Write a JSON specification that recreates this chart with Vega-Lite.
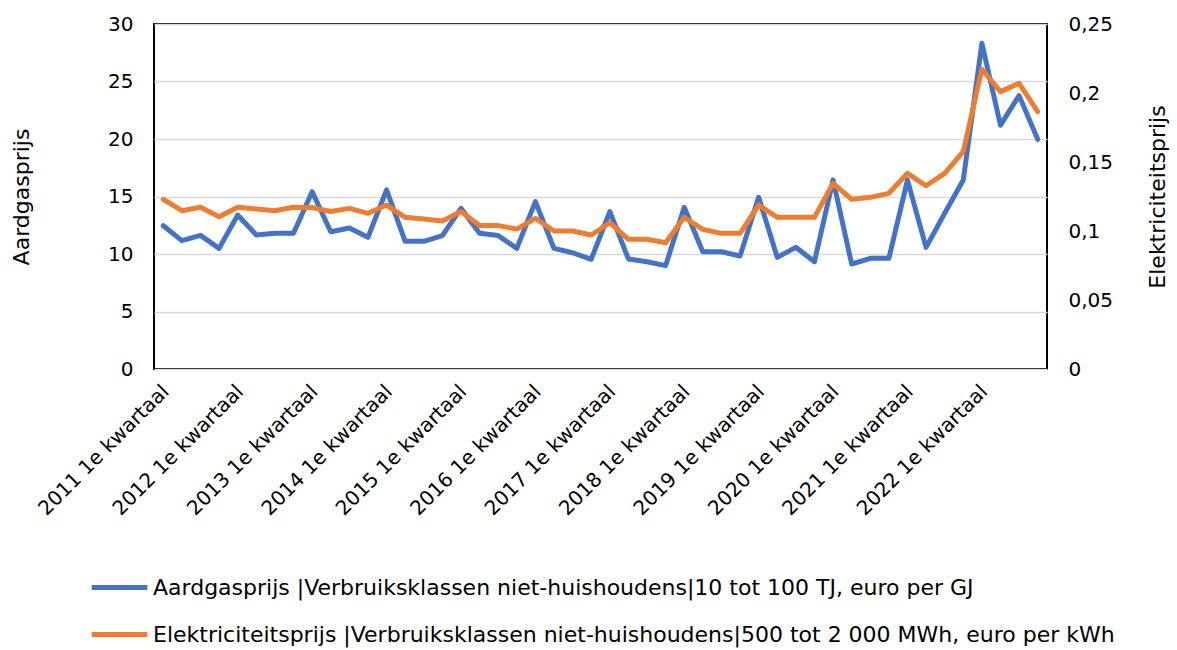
{
  "$schema": "https://vega.github.io/schema/vega-lite/v6.json",
  "width": 893,
  "height": 345,
  "autosize": {"type": "none"},
  "padding": {"left": 154, "top": 24, "right": 130, "bottom": 281},
  "background": "white",
  "config": {
    "font": "DejaVu Sans",
    "view": {"stroke": "#000000", "strokeWidth": 2},
    "axis": {"labelFont": "DejaVu Sans", "titleFont": "DejaVu Sans", "labelColor": "#000", "titleColor": "#000", "titleFontWeight": "normal"},
    "legend": {"labelFont": "DejaVu Sans", "labelColor": "#000"}
  },
  "data": {
    "values": [
      {"q": "2011 1e kwartaal", "gas": 12.46, "elek": 0.123},
      {"q": "2011 2e kwartaal", "gas": 11.16, "elek": 0.1147},
      {"q": "2011 3e kwartaal", "gas": 11.62, "elek": 0.1172},
      {"q": "2011 4e kwartaal", "gas": 10.49, "elek": 0.1104},
      {"q": "2012 1e kwartaal", "gas": 13.39, "elek": 0.1172},
      {"q": "2012 2e kwartaal", "gas": 11.65, "elek": 0.1159},
      {"q": "2012 3e kwartaal", "gas": 11.8, "elek": 0.1147},
      {"q": "2012 4e kwartaal", "gas": 11.8, "elek": 0.1172},
      {"q": "2013 1e kwartaal", "gas": 15.42, "elek": 0.117},
      {"q": "2013 2e kwartaal", "gas": 11.94, "elek": 0.1141},
      {"q": "2013 3e kwartaal", "gas": 12.26, "elek": 0.1164},
      {"q": "2013 4e kwartaal", "gas": 11.45, "elek": 0.1128},
      {"q": "2014 1e kwartaal", "gas": 15.57, "elek": 0.1188},
      {"q": "2014 2e kwartaal", "gas": 11.1, "elek": 0.1099},
      {"q": "2014 3e kwartaal", "gas": 11.1, "elek": 0.1087},
      {"q": "2014 4e kwartaal", "gas": 11.59, "elek": 0.1072},
      {"q": "2015 1e kwartaal", "gas": 13.97, "elek": 0.1141},
      {"q": "2015 2e kwartaal", "gas": 11.8, "elek": 0.1039},
      {"q": "2015 3e kwartaal", "gas": 11.6, "elek": 0.1039},
      {"q": "2015 4e kwartaal", "gas": 10.49, "elek": 0.1014},
      {"q": "2016 1e kwartaal", "gas": 14.55, "elek": 0.1092},
      {"q": "2016 2e kwartaal", "gas": 10.49, "elek": 0.1},
      {"q": "2016 3e kwartaal", "gas": 10.11, "elek": 0.1},
      {"q": "2016 4e kwartaal", "gas": 9.54, "elek": 0.0971},
      {"q": "2017 1e kwartaal", "gas": 13.68, "elek": 0.106},
      {"q": "2017 2e kwartaal", "gas": 9.57, "elek": 0.094},
      {"q": "2017 3e kwartaal", "gas": 9.33, "elek": 0.094},
      {"q": "2017 4e kwartaal", "gas": 8.99, "elek": 0.0915},
      {"q": "2018 1e kwartaal", "gas": 14.06, "elek": 0.1099},
      {"q": "2018 2e kwartaal", "gas": 10.2, "elek": 0.1012},
      {"q": "2018 3e kwartaal", "gas": 10.2, "elek": 0.0983},
      {"q": "2018 4e kwartaal", "gas": 9.83, "elek": 0.0983},
      {"q": "2019 1e kwartaal", "gas": 14.93, "elek": 0.1188},
      {"q": "2019 2e kwartaal", "gas": 9.71, "elek": 0.1099},
      {"q": "2019 3e kwartaal", "gas": 10.58, "elek": 0.1099},
      {"q": "2019 4e kwartaal", "gas": 9.33, "elek": 0.1099},
      {"q": "2020 1e kwartaal", "gas": 16.43, "elek": 0.1345},
      {"q": "2020 2e kwartaal", "gas": 9.13, "elek": 0.123},
      {"q": "2020 3e kwartaal", "gas": 9.62, "elek": 0.1244},
      {"q": "2020 4e kwartaal", "gas": 9.62, "elek": 0.1273},
      {"q": "2021 1e kwartaal", "gas": 16.43, "elek": 0.1418},
      {"q": "2021 2e kwartaal", "gas": 10.58, "elek": 0.1328},
      {"q": "2021 3e kwartaal", "gas": 13.54, "elek": 0.1418},
      {"q": "2021 4e kwartaal", "gas": 16.43, "elek": 0.1575},
      {"q": "2022 1e kwartaal", "gas": 28.32, "elek": 0.2172},
      {"q": "2022 2e kwartaal", "gas": 21.2, "elek": 0.201},
      {"q": "2022 3e kwartaal", "gas": 23.77, "elek": 0.207},
      {"q": "2022 4e kwartaal", "gas": 19.97, "elek": 0.1865}
    ]
  },
  "encoding": {
    "x": {
      "field": "q",
      "type": "ordinal",
      "sort": null,
      "scale": {"type": "point", "padding": 0.5},
      "axis": {
        "title": null,
        "values": ["2011 1e kwartaal", "2012 1e kwartaal", "2013 1e kwartaal", "2014 1e kwartaal", "2015 1e kwartaal", "2016 1e kwartaal", "2017 1e kwartaal", "2018 1e kwartaal", "2019 1e kwartaal", "2020 1e kwartaal", "2021 1e kwartaal", "2022 1e kwartaal"],
        "labelAngle": -45,
        "labelFontSize": 20,
        "labelPadding": 12,
        "labelOffset": -5,
        "ticks": false,
        "domain": false,
        "grid": false
      }
    }
  },
  "layer": [
    {
      "mark": {"type": "line", "strokeWidth": 5, "strokeJoin": "round", "strokeCap": "round"},
      "encoding": {
        "y": {
          "field": "gas",
          "type": "quantitative",
          "scale": {"domain": [0, 30], "nice": false, "zero": true},
          "axis": {
            "title": "Aardgasprijs",
            "titleFontSize": 22,
            "titlePadding": 74,
            "values": [0, 5, 10, 15, 20, 25, 30],
            "labelFontSize": 20,
            "labelPadding": 21,
            "ticks": false,
            "domain": false,
            "grid": true,
            "gridColor": "#d9d9d9",
            "gridWidth": 1.5
          }
        },
        "color": {
          "datum": "Aardgasprijs |Verbruiksklassen niet-huishoudens|10 tot 100 TJ, euro per GJ",
          "type": "nominal",
          "scale": {
            "domain": ["Aardgasprijs |Verbruiksklassen niet-huishoudens|10 tot 100 TJ, euro per GJ", "Elektriciteitsprijs |Verbruiksklassen niet-huishoudens|500 tot 2 000 MWh, euro per kWh"],
            "range": ["#4472C4", "#ED7D31"]
          },
          "legend": {
            "title": null,
            "orient": "none",
            "legendX": -65,
            "legendY": 533,
            "direction": "vertical",
            "symbolType": "stroke",
            "symbolSize": 3100,
            "symbolStrokeWidth": 5,
            "labelFontSize": 22,
            "labelOffset": 3,
            "labelLimit": 0,
            "rowPadding": 5
          }
        }
      }
    },
    {
      "mark": {"type": "line", "strokeWidth": 5, "strokeJoin": "round", "strokeCap": "round"},
      "encoding": {
        "y": {
          "field": "elek",
          "type": "quantitative",
          "scale": {"domain": [0, 0.25], "nice": false, "zero": true},
          "axis": {
            "orient": "right",
            "title": "Elektriciteitsprijs",
            "titleFontSize": 22,
            "titleAngle": -90,
            "titlePadding": 57,
            "values": [0, 0.05, 0.1, 0.15, 0.2, 0.25],
            "labelExpr": "replace(toString(datum.value), '.', ',')",
            "labelFontSize": 20,
            "labelPadding": 21,
            "ticks": false,
            "domain": false,
            "grid": false
          }
        },
        "color": {
          "datum": "Elektriciteitsprijs |Verbruiksklassen niet-huishoudens|500 tot 2 000 MWh, euro per kWh",
          "type": "nominal"
        }
      }
    }
  ],
  "resolve": {"scale": {"y": "independent"}}
}
